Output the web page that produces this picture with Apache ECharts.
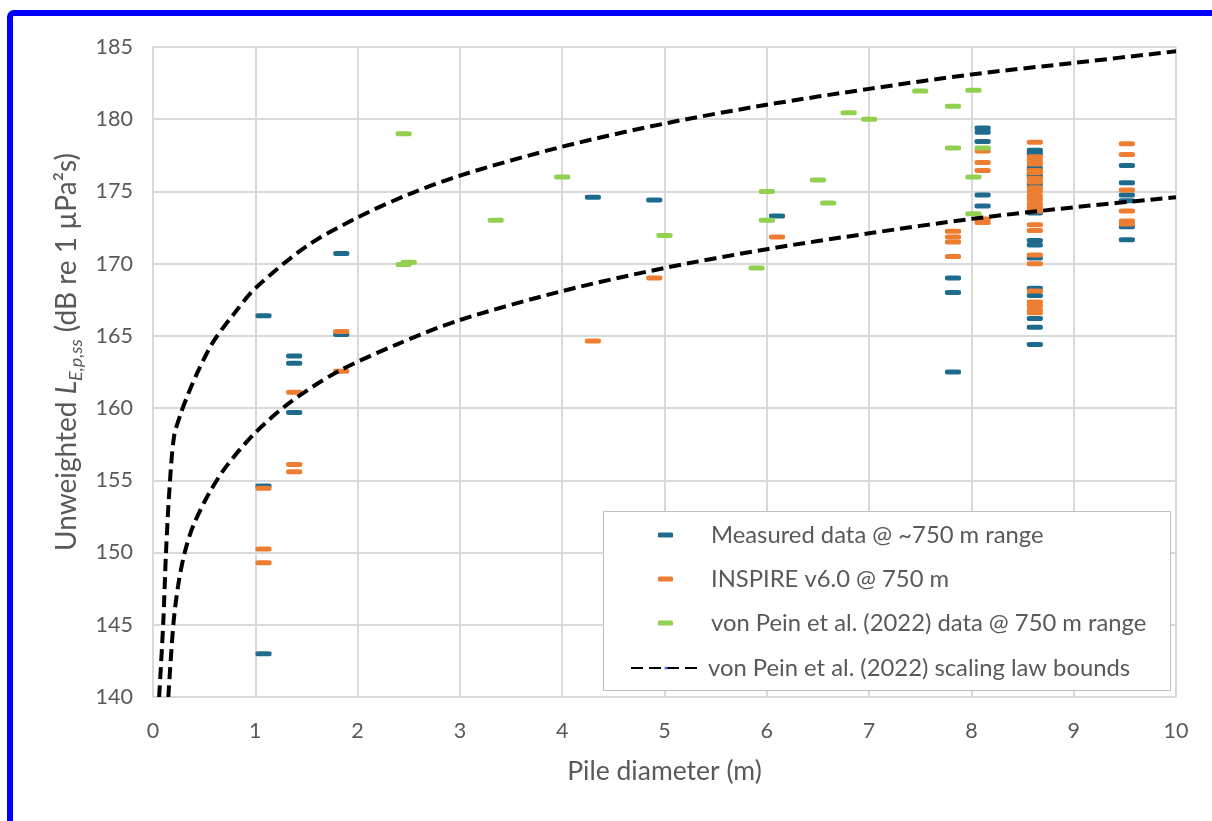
<!DOCTYPE html>
<html>
<head>
<meta charset="utf-8">
<style>
html,body{margin:0;padding:0;background:#fff;}
#c{width:1212px;height:821px;}
</style>
<script src="https://cdn.jsdelivr.net/npm/echarts@6/dist/echarts.min.js"></script>
</head>
<body>
<div id="c"></div>
<script>
// ---- data ----
const xTicks = [0,1,2,3,4,5,6,7,8,9,10];
const yTicks = [140,145,150,155,160,165,170,175,180,185];

const seriesNames = [
  'Measured data @ ~750 m range',
  'INSPIRE v6.0 @ 750 m',
  'von Pein et al. (2022) data @ 750 m range',
  'von Pein et al. (2022) scaling law bounds'
];

const measured = [
  [1.08,166.4],[1.08,154.6],[1.08,143.0],
  [1.38,163.6],[1.38,163.1],[1.38,159.7],
  [1.84,170.7],[1.84,165.1],
  [4.3,174.6],[4.9,174.4],[6.1,173.3],
  [7.82,169.0],[7.82,168.0],[7.82,162.5],
  [8.11,179.4],[8.11,179.1],[8.11,178.45],[8.11,174.75],[8.11,174.0],
  [8.62,177.85],[8.62,177.6],[8.62,176.6],[8.62,176.1],[8.62,175.5],[8.62,173.5],
  [8.62,171.6],[8.62,171.3],[8.62,170.4],[8.62,168.3],[8.62,167.8],
  [8.62,166.2],[8.62,165.6],[8.62,164.4],
  [9.52,176.8],[9.52,175.6],[9.52,174.75],[9.52,174.35],[9.52,172.55],[9.52,171.65]
];

const inspire = [
  [1.08,154.45],[1.08,150.25],[1.08,149.3],
  [1.38,161.1],[1.38,156.1],[1.38,155.6],
  [1.84,165.3],[1.84,162.55],
  [4.3,164.65],[4.9,169.0],[6.1,171.85],
  [7.82,172.25],[7.82,171.85],[7.82,171.5],[7.82,170.5],
  [8.11,177.8],[8.11,177.0],[8.11,176.45],[8.11,173.1],[8.11,172.85],
  [8.62,178.4],[8.62,177.4],[8.62,177.15],[8.62,176.9],[8.62,176.45],[8.62,176.3],
  [8.62,175.9],[8.62,175.65],[8.62,175.25],[8.62,175.0],[8.62,174.7],[8.62,174.45],
  [8.62,174.15],[8.62,173.9],[8.62,173.65],[8.62,172.7],[8.62,172.3],[8.62,170.6],
  [8.62,170.0],[8.62,168.1],[8.62,167.35],[8.62,167.1],[8.62,166.8],[8.62,166.6],
  [9.52,178.3],[9.52,177.55],[9.52,175.1],[9.52,173.65],[9.52,172.95],[9.52,172.75]
];

const vonPein = [
  [2.45,179.0],[2.45,169.95],[2.5,170.1],
  [3.35,173.0],[4.0,176.0],[5.0,171.95],
  [5.9,169.7],[6.0,175.0],[6.0,173.0],
  [6.5,175.8],[6.6,174.2],[6.8,180.45],[7.0,180.0],
  [7.5,181.95],[7.82,180.9],[7.82,178.0],
  [8.02,182.0],[8.02,176.0],[8.02,173.45],[8.11,178.0]
];

const upperBound = [
  [0.06,140],[0.1,145.1],[0.127,150],[0.16,154.3],[0.205,158.0],[0.27,159.6],
  [0.345,161.0],[0.45,162.7],[0.59,164.6],[0.8,166.6],[1,168.3],[1.5,171.2],
  [2,173.2],[2.5,174.8],[3,176.1],[4,178.1],[5,179.7],[6,181.0],[7,182.1],
  [8,183.1],[9,183.9],[10,184.7]
];

const lowerBound = [
  [0.15,140],[0.2,145.1],[0.25,147.9],[0.31,150],[0.39,151.8],[0.54,154.0],
  [0.72,156.0],[1.0,158.3],[1.34,160.4],[1.8,162.5],[2.38,164.4],[3,166.1],
  [4,168.1],[5,169.7],[6,171.0],[7,172.1],[8,173.1],[9,173.9],[10,174.6]
];

// ---- styling ----
const FONT = 'Lato';
const TXT = '#595959';
const C_BLUE = '#1E6B8E';
const C_ORANGE = '#ED7D31';
const C_GREEN = '#92D050';
const GRID = '#D9D9D9';
const TICK_FS = 21.5;
const LEG_FS = 23.8;
const TITLE_FS = 26.5;
const YTITLE_FS = 28;

const markerSize = [16, 5];

function scatter(name, data, color) {
  return {
    type: 'scatter', name, data,
    symbol: 'roundRect', symbolSize: markerSize,
    itemStyle: { color, opacity: 1 },
    emphasis: { disabled: true }, silent: true, z: 2
  };
}
function bound(data) {
  return {
    type: 'line', name: seriesNames[3], data,
    symbol: 'none', smooth: 0.3, clip: true,
    lineStyle: { color: '#000', width: 4, type: [12, 6] },
    emphasis: { disabled: true }, silent: true, z: 3
  };
}

function legendRow(name, left, top, iw, ih, padLeft) {
  return {
    data: [name], left, top, padding: 0,
    itemWidth: iw, itemHeight: ih, selectedMode: false,
    textStyle: { fontFamily: FONT, fontSize: LEG_FS, color: TXT, padding: [0,0,0,padLeft] },
    z: 6
  };
}

const chart = echarts.init(document.getElementById('c'), null, { renderer: 'canvas' });
chart.setOption({
  backgroundColor: '#fff',
  animation: false,
  textStyle: { fontFamily: FONT },
  grid: { left: 153, right: 36, top: 47, bottom: 124, containLabel: false },
  xAxis: {
    type: 'value', min: xTicks[0], max: xTicks[xTicks.length-1], interval: 1,
    name: 'Pile diameter (m)', nameLocation: 'middle', nameGap: 61,
    nameTextStyle: { fontFamily: FONT, fontSize: TITLE_FS, color: TXT },
    axisLine: { show: true, lineStyle: { color: GRID, width: 2 } },
    axisTick: { show: false },
    axisLabel: { margin: 23, fontFamily: FONT, fontSize: TICK_FS, color: TXT },
    splitLine: { show: true, lineStyle: { color: GRID, width: 2 } }
  },
  yAxis: {
    type: 'value', min: yTicks[0], max: yTicks[yTicks.length-1], interval: 5,
    name: '{n|Unweighted }{i|L}{s|E,p,ss}{n| (dB re 1 µPa²s)}',
    nameLocation: 'middle', nameGap: 67, nameRotate: 90,
    nameTextStyle: {
      fontFamily: FONT, fontSize: YTITLE_FS, color: TXT, padding: [0,0,0,40],
      rich: {
        n: { fontFamily: FONT, fontSize: YTITLE_FS, color: TXT, lineHeight: 36 },
        i: { fontFamily: FONT, fontSize: YTITLE_FS, color: TXT, fontStyle: 'italic', lineHeight: 36 },
        s: { fontFamily: FONT, fontSize: 18, color: TXT, fontStyle: 'italic', lineHeight: 18, verticalAlign: 'bottom' }
      }
    },
    axisLine: { show: true, lineStyle: { color: GRID, width: 2 } },
    axisTick: { show: false },
    axisLabel: { margin: 20, fontFamily: FONT, fontSize: TICK_FS, color: TXT },
    splitLine: { show: true, lineStyle: { color: GRID, width: 2 } }
  },
  legend: [
    legendRow(seriesNames[0], 658, 523, 15, 5, 33),
    legendRow(seriesNames[1], 658, 567, 15, 5, 33),
    legendRow(seriesNames[2], 658, 611, 15, 5, 33),
    legendRow(seriesNames[3], 630, 656, 70, 4, 2)
  ],
  graphic: [
    { type: 'rect', z: 5, silent: true,
      shape: { x: 603.5, y: 511.5, width: 567, height: 179 },
      style: { fill: '#fff', stroke: '#BFBFBF', lineWidth: 1 } },
    { type: 'rect', z: 10, silent: true,
      shape: { x: 10, y: 13, width: 1400, height: 1000, r: 4 },
      style: { fill: 'none', stroke: '#0000FF', lineWidth: 6 } }
  ],
  series: [
    scatter(seriesNames[0], measured, C_BLUE),
    scatter(seriesNames[1], inspire, C_ORANGE),
    scatter(seriesNames[2], vonPein, C_GREEN),
    bound(upperBound),
    bound(lowerBound)
  ]
});
</script>
</body>
</html>
